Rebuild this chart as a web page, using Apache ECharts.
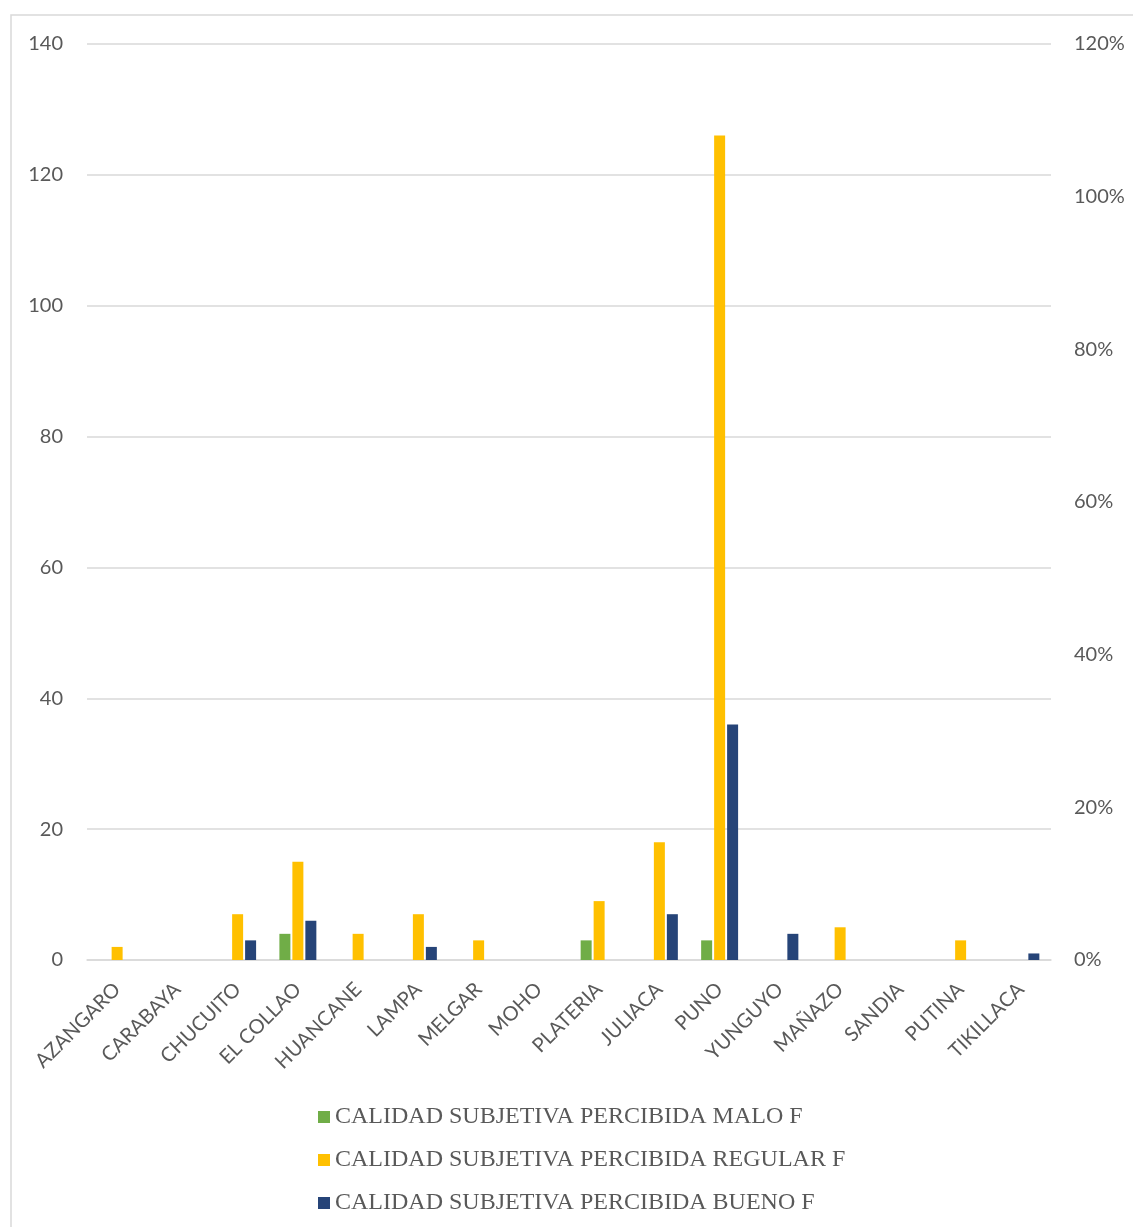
<!DOCTYPE html>
<html>
<head>
<meta charset="utf-8">
<script src="https://cdn.jsdelivr.net/npm/echarts@6/dist/echarts.min.js"></script>
<style>
  html, body { margin: 0; padding: 0; background: #fff; }
  #chart { width: 1133px; height: 1227px; }
</style>
</head>
<body>
<div id="chart"></div>
<script>
// Provinces / districts on the category axis
const categories = ['AZANGARO', 'CARABAYA', 'CHUCUITO', 'EL COLLAO', 'HUANCANE', 'LAMPA', 'MELGAR', 'MOHO',
  'PLATERIA', 'JULIACA', 'PUNO', 'YUNGUYO', 'MAÑAZO', 'SANDIA', 'PUTINA', 'TIKILLACA'];

// Counts (F) per perceived quality level
const maloF    = [0, 0, 0, 4, 0, 0, 0, 0, 3, 0, 3, 0, 0, 0, 0, 0];
const regularF = [2, 0, 7, 15, 4, 7, 3, 0, 9, 18, 126, 0, 5, 0, 3, 0];
const buenoF   = [0, 0, 3, 6, 0, 2, 0, 0, 0, 7, 36, 4, 0, 0, 0, 1];

const seriesNames = ['CALIDAD SUBJETIVA PERCIBIDA MALO F', 'CALIDAD SUBJETIVA PERCIBIDA REGULAR F', 'CALIDAD SUBJETIVA PERCIBIDA BUENO F'];
const seriesColors = ['#70ad47', '#ffc000', '#264478'];

const leftTicks = { min: 0, max: 140, interval: 20 };
const rightTicks = { min: 0, max: 1.2, interval: 0.2 };

const axisText = { color: '#595959', fontFamily: 'Lato', fontSize: 20 };

const chart = echarts.init(document.getElementById('chart'));
const values = [maloF, regularF, buenoF];

chart.setOption({
  animation: false,
  graphic: [{
    type: 'rect',
    shape: { x: 11, y: 15, width: 1300, height: 1400 },
    style: { fill: 'none', stroke: '#d9d9d9', lineWidth: 1.5 },
    z: -10
  }],
  grid: { left: 87, right: 82, top: 44, bottom: 267 },
  legend: {
    orient: 'vertical',
    left: 313,
    top: 1100,
    itemWidth: 12,
    itemHeight: 12,
    itemGap: 19,
    icon: 'rect',
    textStyle: { color: '#595959', fontFamily: 'Liberation Serif', fontSize: 24, lineHeight: 24 },
    data: seriesNames
  },
  xAxis: {
    type: 'category',
    data: categories,
    axisTick: { show: false },
    axisLine: { show: true, lineStyle: { color: '#d9d9d9', width: 1.5 } },
    axisLabel: { ...axisText, fontSize: 20, rotate: 45, interval: 0, margin: 26 }
  },
  yAxis: [{
    type: 'value',
    ...leftTicks,
    axisLine: { show: false },
    axisTick: { show: false },
    splitLine: { lineStyle: { color: '#d9d9d9', width: 1.5 } },
    axisLabel: { ...axisText, margin: 24 }
  }, {
    type: 'value',
    ...rightTicks,
    position: 'right',
    axisLine: { show: false },
    axisTick: { show: false },
    splitLine: { show: false },
    axisLabel: { ...axisText, margin: 23, formatter: v => Math.round(v * 100) + '%' }
  }],
  series: seriesNames.map((name, i) => ({
    name: name,
    type: 'bar',
    yAxisIndex: 0,
    data: values[i],
    barWidth: 11,
    barGap: '18%',
    itemStyle: { color: seriesColors[i] }
  }))
});
</script>
</body>
</html>
